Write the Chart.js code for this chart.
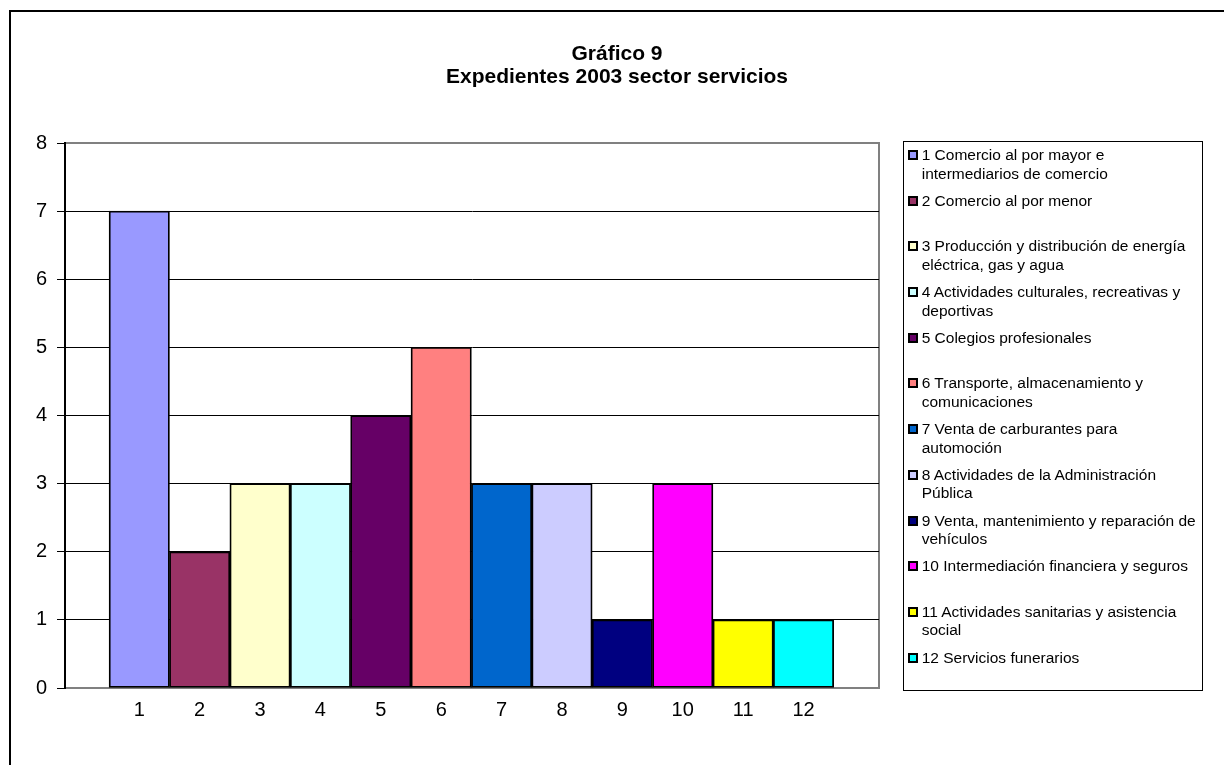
<!DOCTYPE html>
<html lang="es">
<head>
<meta charset="utf-8">
<title>Gráfico 9</title>
<script src="https://cdn.jsdelivr.net/npm/chart.js@4.4.1/dist/chart.umd.min.js"></script>
<style>
  html, body { margin: 0; padding: 0; background: #fff; overflow: hidden; }
  body { width: 1224px; height: 765px; position: relative; font-family: "Liberation Sans", Arial, sans-serif; color: #000; }
  #frame { position: absolute; left: 9px; top: 10px; width: 1400px; height: 900px; border: 2px solid #000; }
  #chartCanvas { position: absolute; left: 0; top: 0; }
  #title { position: absolute; left: 0; top: 41px; width: 1234px; text-align: center; font-weight: bold; font-size: 21px; line-height: 23px; }
  #legend { position: absolute; left: 903px; top: 141px; width: 300px; height: 550px; border: 1px solid #000; box-sizing: border-box; padding-top: 4px; }
  .item { position: relative; height: 45.7px; padding-left: 17.7px; }
  .item .text { width: 278px; font-size: 15.5px; line-height: 18.5px; }
  .swatch { position: absolute; left: 4px; top: 4px; width: 6px; height: 6px; border: 2px solid #000; }
</style>
</head>
<body>
<div id="frame"></div>
<canvas id="chartCanvas" width="1224" height="765"></canvas>
<div id="title">Gráfico 9<br>Expedientes 2003 sector servicios</div>
<div id="legend"></div>
<script>
// Sector numbers and names
const categories = [1, 2, 3, 4, 5, 6, 7, 8, 9, 10, 11, 12];
const sectorNames = [
  'Comercio al por mayor e intermediarios de comercio',
  'Comercio al por menor',
  'Producción y distribución de energía eléctrica, gas y agua',
  'Actividades culturales, recreativas y deportivas',
  'Colegios profesionales',
  'Transporte, almacenamiento y comunicaciones',
  'Venta de carburantes para automoción',
  'Actividades de la Administración Pública',
  'Venta, mantenimiento y reparación de vehículos',
  'Intermediación financiera y seguros',
  'Actividades sanitarias y asistencia social',
  'Servicios funerarios'
];
// Number of files per sector in 2003
const expedientes = [7, 2, 3, 3, 4, 5, 3, 3, 1, 3, 1, 1];
const barColors = [
  '#9999FF', '#993366', '#FFFFCC', '#CCFFFF', '#660066', '#FF8080',
  '#0066CC', '#CCCCFF', '#000080', '#FF00FF', '#FFFF00', '#00FFFF'
];
const yTicks = [0, 1, 2, 3, 4, 5, 6, 7, 8];

Chart.defaults.font.family = '"Liberation Sans", Arial, sans-serif';
Chart.defaults.color = '#000';

// Gray frame around the plot area, drawn under the grid and bars
const plotBorder = {
  id: 'plotBorder',
  beforeDraw(chart) {
    const { ctx, chartArea: a } = chart;
    ctx.save();
    ctx.strokeStyle = '#808080';
    ctx.lineWidth = 2;
    ctx.strokeRect(a.left, a.top, a.right - a.left, a.bottom - a.top);
    ctx.restore();
  }
};

const ctx = document.getElementById('chartCanvas').getContext('2d');
new Chart(ctx, {
  type: 'bar',
  data: {
    datasets: [{
      label: 'Expedientes 2003',
      data: categories.map((c, i) => ({ x: c, y: expedientes[i] })),
      backgroundColor: barColors,
      borderColor: '#000',
      borderWidth: 1.8,
      borderSkipped: false,
      categoryPercentage: 1,
      barPercentage: 1
    }]
  },
  options: {
    responsive: false,
    animation: false,
    layout: { padding: { top: 143, right: 345, bottom: 0, left: 0 } },
    scales: {
      x: {
        type: 'linear',
        offset: false,
        min: -0.23,
        max: 13.25,
        grid: { display: false, offset: false },
        border: { display: false },
        afterBuildTicks: (scale) => { scale.ticks = categories.map(v => ({ value: v })); },
        afterFit: (scale) => { scale.height = 77; },
        ticks: {
          autoSkip: false,
          maxRotation: 0,
          padding: 2,
          font: { size: 20 },
          callback: (v) => String(v)
        }
      },
      y: {
        min: 0,
        max: 8,
        afterBuildTicks: (scale) => { scale.ticks = yTicks.map(v => ({ value: v })); },
        afterFit: (scale) => { scale.width = 65; },
        ticks: { padding: 10, font: { size: 20 } },
        grid: {
          color: (c) => (c.tick && (c.tick.value === 0 || c.tick.value === 8)) ? 'rgba(0,0,0,0)' : '#000',
          tickColor: '#000',
          tickLength: 8,
          lineWidth: 1
        },
        border: { display: true, color: '#000', width: 2 }
      }
    },
    plugins: {
      legend: { display: false },
      tooltip: { enabled: false },
      title: { display: false }
    }
  },
  plugins: [plotBorder]
});

// Legend box on the right, one entry per sector
const legend = document.getElementById('legend');
categories.forEach((c, i) => {
  const item = document.createElement('div');
  item.className = 'item';
  const sw = document.createElement('div');
  sw.className = 'swatch';
  sw.style.background = barColors[i];
  const txt = document.createElement('div');
  txt.className = 'text';
  txt.textContent = c + ' ' + sectorNames[i];
  item.appendChild(sw);
  item.appendChild(txt);
  legend.appendChild(item);
});
</script>
</body>
</html>
